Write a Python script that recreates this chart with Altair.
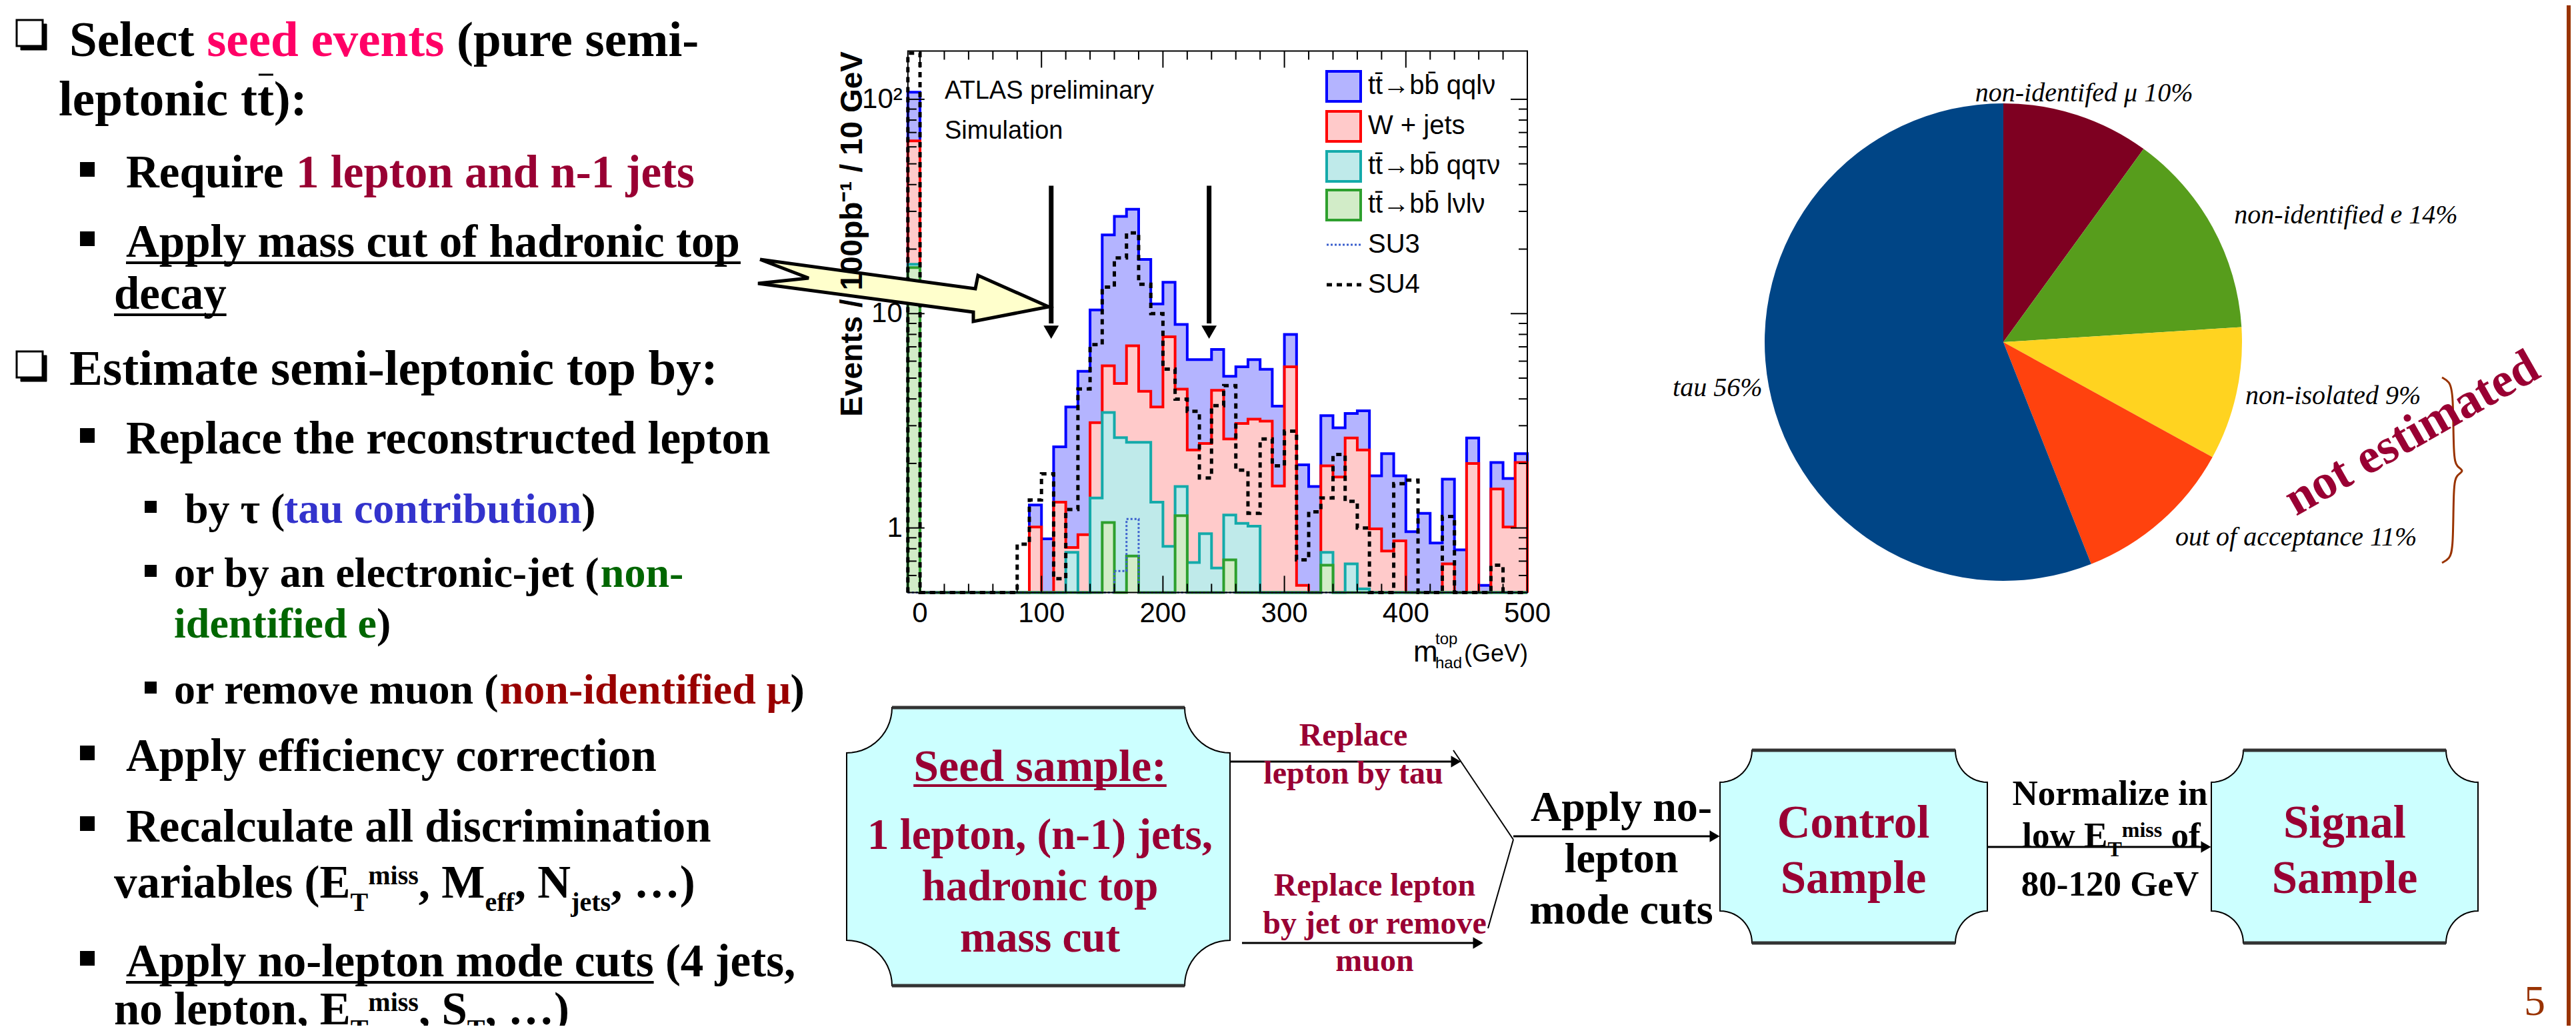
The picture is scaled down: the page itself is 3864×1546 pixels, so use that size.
import altair as alt
import pandas as pd
import math
from collections import defaultdict

# ====================== DATA ======================
# Histogram: m_had^top, 10 GeV bins (first bin -10..0 holds the overflow spike)
BIN_LOW = [-10, 0, 10, 20, 30, 40, 50, 60, 70, 80, 90, 100, 110, 120, 130, 140, 150, 160, 170, 180,
           190, 200, 210, 220, 230, 240, 250, 260, 270, 280, 290, 300, 310, 320, 330, 340, 350, 360,
           370, 380, 390, 400, 410, 420, 430, 440, 450, 460, 470, 480, 490]
TT_QQLNU = [108, 0, 0, 0, 0, 0, 0, 0, 0, 0, 1.28, 0.89, 2.39, 3.67, 5.38, 10.4, 23.3, 28.4, 30.7, 17.9,
            11.1, 14.0, 8.9, 6.1, 6.1, 6.8, 5.1, 5.65, 6.1, 5.5, 3.7, 8.0, 1.97, 1.56, 3.34, 2.93, 3.42, 3.52,
            1.75, 2.22, 1.75, 0.96, 1.17, 0.85, 1.69, 0.79, 2.63, 0.54, 2.02, 1.70, 2.22]
W_JETS = [64, 0, 0, 0, 0, 0, 0, 0, 0, 0, 1.01, 0, 1.32, 0.81, 0.93, 3.1, 5.71, 4.72, 7.08, 4.34,
          3.67, 7.8, 4.44, 2.31, 2.48, 4.39, 2.6, 3.07, 3.22, 3.15, 1.57, 5.65, 0.54, 0, 1.95, 1.73, 2.63, 2.31,
          0.99, 0.78, 0.87, 0, 0, 0, 0.68, 0, 2.0, 0, 1.52, 1.01, 2.02]
TT_QQTAUNU = [17, 0, 0, 0, 0, 0, 0, 0, 0, 0, 0, 0, 0, 0.77, 0, 1.38, 3.46, 2.64, 2.51, 2.51,
              1.32, 0.82, 1.56, 0.69, 0.94, 0.65, 1.15, 1.05, 1.02, 0, 0, 0, 0, 0, 0.77, 0, 0.68, 0.52,
              0, 0, 0, 0, 0, 0, 0, 0, 0, 0, 0, 0, 0]
TT_LNULNU = [16.4, 0, 0, 0, 0, 0, 0, 0, 0, 0, 0, 0, 0, 0, 0, 0, 1.06, 0, 0.74, 0,
             0, 0, 1.14, 0, 0, 0, 0.71, 0, 0, 0, 0, 0, 0, 0, 0.67, 0, 0, 0,
             0, 0, 0, 0, 0, 0, 0, 0, 0, 0, 0, 0, 0]
SU3 = [0, 0, 0, 0, 0, 0, 0, 0, 0, 0, 0, 0, 0, 0, 0, 0, 0, 0.63, 1.1, 0,
       0, 0, 0, 0, 0, 0, 0, 0, 0, 0, 0, 0, 0, 0, 0, 0, 0, 0,
       0, 0, 0, 0, 0, 0, 0, 0, 0, 0, 0, 0, 0]
SU4 = [164, 0, 0, 0, 0, 0, 0, 0, 0, 0.84, 1.35, 1.79, 0.58, 1.22, 4.45, 7.17, 13.3, 18.2, 23.8, 13.7,
       10.0, 5.51, 3.99, 3.5, 1.71, 3.72, 4.61, 1.86, 1.17, 2.6, 1.95, 2.83, 0.71, 1.19, 1.38, 2.2, 1.33, 1.0,
       0, 0, 1.61, 1.67, 0, 0, 1.13, 0, 0, 0, 0.67, 0, 0]
MASS_CUTS = [108, 238]
X_TICK_LABELS = [0, 100, 200, 300, 400, 500]
Y_TICK_LABELS = ["1", "10", "10\u00b2"]
X_TICKS_MINOR = [20, 40, 60, 80, 120, 140, 160, 180, 220, 240, 260, 280, 320, 340, 360, 380, 420, 440, 460, 480]
X_TICKS_MAJOR = [0, 100, 200, 300, 400]
Y_TICKS_MAJOR = [1, 10, 100]
Y_TICKS_MINOR = [0.6, 0.7, 0.8, 0.9, 2, 3, 4, 5, 6, 7, 8, 9, 20, 30, 40, 50, 60, 70, 80, 90]

# Pie: sources of the semi-leptonic top background
PIE_LABELS = ["non-identifed \u03bc", "non-identified e", "non-isolated", "out of acceptance", "tau"]
PIE_VALUES = [10, 14, 9, 11, 56]
PIE_COLORS = ["#7e0021", "#579d1c", "#ffd320", "#ff420e", "#004586"]

# ====================== LAYOUT ======================
W, H = 3848, 1530
M = 8
SERIF = "Liberation Serif"
SANS = "Liberation Sans"
K = "black"
PINK = "#ff0066"
DRED = "#990033"
BLUE = "#3333cc"
GREEN = "#006600"
MRED = "#990000"
BROWN = "#993300"

def X(v):
    return v - M

def Y(v):
    return v - M

PXS = alt.Scale(domain=[0, W], range=[0, W], nice=False, zero=False)
PYS = alt.Scale(domain=[0, H], range=[0, H], nice=False, zero=False)

TBW = {' ': 250, '!': 333, '(': 333, ')': 333, ',': 250, '-': 333, '.': 250, ':': 333, '%': 1000,
       '\u2026': 1000, '\u03c4': 440, '\u03bc': 556}
for d in "0123456789":
    TBW[d] = 500
for ch, w in zip("ABCDEFGHIJKLMNOPQRSTUVWXYZ",
                 [722, 667, 722, 722, 667, 611, 778, 778, 389, 500, 778, 667, 944, 722, 778, 611, 778, 722,
                  556, 667, 722, 722, 1000, 722, 722, 667]):
    TBW[ch] = w
for ch, w in zip("abcdefghijklmnopqrstuvwxyz",
                 [500, 556, 444, 556, 444, 333, 500, 556, 278, 333, 556, 278, 833, 556, 500, 556, 556, 444,
                  389, 333, 556, 500, 722, 500, 500, 444]):
    TBW[ch] = w

def tbw(s, F):
    return sum(TBW.get(c, 500) for c in s) * F / 1000.0

texts, rules, squares, rects, heads = [], [], [], [], []

def T(x, y, s, size, color=K, font=SERIF, weight="bold", style="normal", align="left",
      baseline="alphabetic", angle=0):
    texts.append(dict(x=X(x), y=Y(y), t=s, s=size, c=color, font=font, weight=weight, style=style,
                      align=align, baseline=baseline, angle=angle))

def R(x1, y1, x2, y2, w, color=K):
    rules.append(dict(x=X(x1), y=Y(y1), x2=X(x2), y2=Y(y2), w=w, c=color))

def rich(x0, base, segs):
    x = x0
    for seg in segs:
        text, color, F = seg[0], seg[1], seg[2]
        dy = seg[3] if len(seg) > 3 else 0
        ul = seg[4] if len(seg) > 4 else False
        stripped = text.lstrip(" ")
        lead = tbw(text[:len(text) - len(stripped)], F)   # SVG drops leading blanks
        x += lead
        T(x, base + dy, stripped, F, color)
        w = tbw(stripped, F)
        if ul:
            R(x, base + 9, x + w, base + 9, 4, color)
        x += w
    return x

def bullet(cx, cy, side):
    squares.append(dict(x=X(cx), y=Y(cy), sz=side * side))

def checkbox(x0, y0):
    rects.append(dict(x=X(x0 + 6), x2=X(x0 + 45), y=Y(y0 + 6), y2=Y(y0 + 45), f=K, s=K, sw=1))
    rects.append(dict(x=X(x0), x2=X(x0 + 39), y=Y(y0), y2=Y(y0 + 39), f="white", s=K, sw=3))

F1, F2, F3 = 75, 69, 64
# ---------- left column text ----------
checkbox(25, 30)
rich(104, 84, [("Select ", K, F1), ("seed events", PINK, F1), (" (pure semi-", K, F1)])
rich(88, 173, [("leptonic tt):", K, F1)])
xa = 88 + tbw("leptonic t", F1)
R(xa + 2, 112, xa + tbw("t", F1) - 1, 112, 3)
bullet(131, 254, 22)
rich(189, 281, [("Require ", K, F2), ("1 lepton and n-1 jets", DRED, F2)])
bullet(131, 358, 22)
rich(189, 385, [("Apply mass cut of hadronic top", K, F2, 0, True)])
rich(171, 463, [("decay", K, F2, 0, True)])
checkbox(25, 527)
rich(104, 577, [("Estimate semi-leptonic top by:", K, F1)])
bullet(131, 653, 22)
rich(189, 680, [("Replace the reconstructed lepton", K, F2)])
bullet(226, 760, 18)
rich(277, 784, [("by \u03c4 (", K, F3), ("tau contribution", BLUE, F3), (")", K, F3)])
bullet(226, 856, 18)
rich(261, 880, [("or by an electronic-jet (", K, F3), ("non-", GREEN, F3)])
rich(261, 956, [("identified e", GREEN, F3), (")", K, F3)])
bullet(226, 1031, 18)
rich(261, 1055, [("or remove muon (", K, F3), ("non-identified \u03bc", MRED, F3), (")", K, F3)])
bullet(131, 1129, 22)
rich(189, 1156, [("Apply efficiency correction", K, F2)])
bullet(131, 1235, 22)
rich(189, 1262, [("Recalculate all discrimination", K, F2)])
rich(171, 1346, [("variables (E", K, F2), ("T", K, 40, 20), ("miss", K, 40, -20), (", M", K, F2),
                 ("eff", K, 40, 20), (", N", K, F2), ("jets", K, 40, 20), (", \u2026)", K, F2)])
bullet(131, 1437, 22)
rich(189, 1464, [("Apply no-lepton mode cuts", K, F2, 0, True), (" (4 jets,", K, F2)])
rich(171, 1536, [("no lepton, E", K, F2), ("T", K, 40, 20), ("miss", K, 40, -20), (", S", K, F2),
                 ("T", K, 40, 20), (", \u2026)", K, F2)])

# ---------- histogram annotations ----------
T(1417, 148, "ATLAS preliminary", 38, font=SANS, weight="normal")
T(1417, 208, "Simulation", 38, font=SANS, weight="normal")
T(1279, 77, "Events / 100pb\u207b\u00b9 / 10 GeV", 46, font=SANS, weight="bold", align="right",
  baseline="middle", angle=270)
T(2120, 992, "m", 44, font=SANS, weight="normal")
T(2153, 966, "top", 24, font=SANS, weight="normal")
T(2153, 1002, "had", 24, font=SANS, weight="normal")
T(2292, 992, "(GeV)", 36, font=SANS, weight="normal", align="right")
LEG = [("tt\u0304\u2192bb\u0304 qql\u03bd", 129), ("W + jets", 189), ("tt\u0304\u2192bb\u0304 qq\u03c4\u03bd", 249),
       ("tt\u0304\u2192bb\u0304 l\u03bdl\u03bd", 307), ("SU3", 367), ("SU4", 427)]
for s, yc in LEG:
    T(2052, yc, s, 40, font=SANS, weight="normal", baseline="middle")
LEG_BOX = [(107, "#b4b4ff", "#0000ff"), (167, "#ffcaca", "#ff0000"), (227, "#bfeaea", "#14aaaa"),
           (285, "#d2ecc8", "#2ea02e")]
for y0, f, s in LEG_BOX:
    rects.append(dict(x=X(1990), x2=X(2041), y=Y(y0), y2=Y(y0 + 45), f=f, s=s, sw=4))

# ---------- pie annotations ----------
T(3618, 650, "not estimated", 74, DRED, align="center", baseline="middle", angle=330.4)

# ---------- flowchart ----------
T(1560, 1171, "Seed sample:", 68, DRED, align="center")
wseed = tbw("Seed sample:", 68)
R(1560 - wseed / 2, 1178, 1560 + wseed / 2, 1178, 4, DRED)
T(1560, 1273, "1 lepton, (n-1) jets,", 65, DRED, align="center")
T(1560, 1350, "hadronic top", 65, DRED, align="center")
T(1560, 1427, "mass cut", 65, DRED, align="center")
T(2030, 1118, "Replace", 48, DRED, align="center")
T(2030, 1175, "lepton by tau", 48, DRED, align="center")
T(2062, 1343, "Replace lepton", 48, DRED, align="center")
T(2062, 1400, "by jet or remove", 48, DRED, align="center")
T(2062, 1456, "muon", 48, DRED, align="center")
T(2432, 1231, "Apply no-", 64, align="center")
T(2432, 1308, "lepton", 64, align="center")
T(2432, 1385, "mode cuts", 64, align="center")
T(2780, 1256, "Control", 69, DRED, align="center")
T(2780, 1339, "Sample", 69, DRED, align="center")
T(3517, 1256, "Signal", 69, DRED, align="center")
T(3517, 1339, "Sample", 69, DRED, align="center")
T(3165, 1207, "Normalize in", 53, align="center")
segs = [("low E", K, 53), ("T", K, 32, 14), ("miss", K, 32, -15), (" of", K, 53)]
tot = sum(tbw(s[0], s[2]) for s in segs)
rich(3167 - tot / 2, 1270, segs)
T(3165, 1343, "80-120 GeV", 53, align="center")
T(3802, 1522, "5", 64, BROWN, align="center", weight="normal")

# flow arrows
R(1845, 1142, 2184, 1142, 3)
R(1863, 1414, 2217, 1414, 3)
R(2180, 1125, 2270, 1259, 2)
R(2232, 1392, 2270, 1259, 2)
R(2270, 1254, 2572, 1254, 3)
R(2981, 1270, 3309, 1270, 3)
for tx, ty in [(2192, 1142), (2225, 1414), (2580, 1254), (3317, 1270)]:
    heads.append(dict(x=X(tx - 8), y=Y(ty)))

# plaque boxes
PLAQUES = [(1270, 1845, 1061, 1478, 68), (2580, 2981, 1125, 1414, 48), (3317, 3717, 1125, 1414, 48)]
plaque_rows = []
for bid, (L, Rr, Tt, B, r) in enumerate(PLAQUES):
    n = 14
    pts = []
    for k in range(n + 1):
        ph = (math.pi / 2) * k / n
        pts.append((L + r * math.sin(ph), r * math.cos(ph)))
    for k in range(n + 1):
        ph = (math.pi / 2) * (n - k) / n
        pts.append((Rr - r * math.sin(ph), r * math.cos(ph)))
    for xx, dd in pts:
        plaque_rows.append(dict(id=bid, x=X(xx), y=Y(Tt + dd), y2=Y(B - dd)))
    R(L + r, Tt, Rr - r, Tt, 5, "#333333")
    R(L + r, B, Rr - r, B, 5, "#333333")

# big yellow arrow polygon
ARROW = [(1140, 389), (1463, 433), (1467, 413), (1573, 460), (1460, 482), (1460, 468), (1137, 425),
         (1213, 417), (1140, 389)]
arrow_rows = [dict(i=i, x=X(a), y=Y(b)) for i, (a, b) in enumerate(ARROW)]
BRACE = [(3663, 566), (3674, 572), (3680, 588), (3680, 686), (3685, 700), (3697, 706), (3685, 712),
         (3680, 726), (3680, 824), (3674, 838), (3663, 844)]
brace_rows = [dict(i=i, x=X(a), y=Y(b)) for i, (a, b) in enumerate(BRACE)]
R(3853, 0, 3853, 1546, 6, BROWN)

# ====================== HISTOGRAM ======================
FLOOR = 0.5
XS = alt.Scale(domain=[-10, 500], range=[X(1361.8), X(2291)], nice=False, zero=False)
YS = alt.Scale(type="log", domain=[FLOOR, 168], range=[Y(888.4), Y(76.5)], nice=False)

def hist_df(vals):
    rows = [dict(i=0, x=-10, v=FLOOR)]
    for k, (lo, v) in enumerate(zip(BIN_LOW, vals)):
        rows.append(dict(i=k + 1, x=lo, v=max(v, FLOOR)))
    rows.append(dict(i=len(rows), x=500, v=max(vals[-1], FLOOR)))
    rows.append(dict(i=len(rows), x=500, v=FLOOR))
    return pd.DataFrame(rows)

hist_layers = []
STYLES = [(TT_QQLNU, "#b4b4ff", "#0000ff"), (W_JETS, "#ffcaca", "#ff0000"),
          (TT_QQTAUNU, "#bfeaea", "#14aaaa"), (TT_LNULNU, "#d2ecc8", "#2ea02e")]
for vals, fill, stroke in STYLES:
    df = hist_df(vals)
    hist_layers.append(
        alt.Chart(df).mark_area(interpolate="step-after", color=fill, opacity=1).encode(
            x=alt.X("x:Q", scale=XS, axis=None), y=alt.Y("v:Q", scale=YS, axis=None),
            y2=alt.Y2Datum(FLOOR)))
    hist_layers.append(
        alt.Chart(df).mark_line(interpolate="step-after", color=stroke, strokeWidth=4, strokeCap="butt").encode(
            x=alt.X("x:Q", scale=XS, axis=None), y=alt.Y("v:Q", scale=YS, axis=None), order="i:Q"))
hist_layers.append(
    alt.Chart(hist_df(SU3)).mark_line(interpolate="step-after", color="#3a5fcd", strokeWidth=3,
                                      strokeDash=[3, 3]).encode(
        x=alt.X("x:Q", scale=XS, axis=None), y=alt.Y("v:Q", scale=YS, axis=None), order="i:Q"))
hist_layers.append(
    alt.Chart(hist_df(SU4)).mark_line(interpolate="step-after", color=K, strokeWidth=5,
                                      strokeDash=[8, 7]).encode(
        x=alt.X("x:Q", scale=XS, axis=None), y=alt.Y("v:Q", scale=YS, axis=None), order="i:Q"))
one = pd.DataFrame({"a": [0]})
hist_layers.append(
    alt.Chart(one).mark_rect(fill="transparent", stroke=K, strokeWidth=2).encode(
        x=alt.XDatum(-10, scale=XS, axis=None), x2=alt.X2Datum(500),
        y=alt.YDatum(FLOOR, scale=YS, axis=None), y2=alt.Y2Datum(168)))
for ticks, ln in [(X_TICKS_MINOR, 13), (X_TICKS_MAJOR, 25)]:
    for yv, sgn in [(FLOOR, -1), (168, 1)]:
        hist_layers.append(
            alt.Chart(pd.DataFrame({"t": ticks})).mark_tick(orient="vertical", size=ln, thickness=2, color=K,
                                                           yOffset=sgn * ln / 2, opacity=1).encode(
                x=alt.X("t:Q", scale=XS, axis=None), y=alt.YDatum(yv, scale=YS, axis=None)))
for ticks, ln in [(Y_TICKS_MINOR, 13), (Y_TICKS_MAJOR, 25)]:
    for xv, sgn in [(-10, 1), (500, -1)]:
        hist_layers.append(
            alt.Chart(pd.DataFrame({"t": ticks})).mark_tick(orient="horizontal", size=ln, thickness=2, color=K,
                                                           xOffset=sgn * ln / 2, opacity=1).encode(
                x=alt.XDatum(xv, scale=XS, axis=None), y=alt.Y("t:Q", scale=YS, axis=None)))
# tick labels drawn through the scales
hist_layers.append(
    alt.Chart(pd.DataFrame({"t": X_TICK_LABELS})).mark_text(
        font=SANS, fontSize=42, baseline="top", align="center", dy=12, color=K).encode(
        x=alt.X("t:Q", scale=XS, axis=None), y=alt.YDatum(FLOOR, scale=YS, axis=None),
        text=alt.Text("t:Q", format="d")))
hist_layers.append(
    alt.Chart(pd.DataFrame({"t": Y_TICKS_MAJOR, "lab": Y_TICK_LABELS})).mark_text(
        font=SANS, fontSize=42, baseline="middle", align="right", dx=-8, color=K).encode(
        x=alt.XDatum(-10, scale=XS, axis=None), y=alt.Y("t:Q", scale=YS, axis=None), text="lab:N"))
cuts = pd.DataFrame({"m": MASS_CUTS})
hist_layers.append(
    alt.Chart(cuts).mark_rule(strokeWidth=7, color=K).encode(
        x=alt.X("m:Q", scale=XS, axis=None), y=alt.YDatum(39.5, scale=YS, axis=None), y2=alt.Y2Datum(9.0)))
hist_layers.append(
    alt.Chart(cuts).mark_point(shape="triangle-down", filled=True, size=520, color=K, opacity=1,
                               yOffset=-10).encode(
        x=alt.X("m:Q", scale=XS, axis=None), y=alt.YDatum(7.63, scale=YS, axis=None)))
hist = alt.layer(*hist_layers)

# ====================== PIE ======================
CX, CY = X(3005), Y(513)
pie_df = pd.DataFrame(dict(label=PIE_LABELS, value=PIE_VALUES, ord=list(range(len(PIE_LABELS)))))
pie_df["txt"] = [f"{l} {v}%" for l, v in zip(PIE_LABELS, PIE_VALUES)]
pbase = alt.Chart(pie_df)
pie_layers = [pbase.mark_arc(outerRadius=358).encode(
    theta=alt.Theta("value:Q", stack=True, scale=alt.Scale(domain=[0, 100])),
    order=alt.Order("ord:Q"),
    color=alt.Color("label:N", scale=alt.Scale(domain=PIE_LABELS, range=PIE_COLORS), legend=None),
    x=alt.value(CX), y=alt.value(CY))]
LABEL_POS = [(PIE_LABELS[0], 392, "center"), (PIE_LABELS[1], 395, "left"), (PIE_LABELS[2], 372, "left"),
             (PIE_LABELS[3], 390, "left"), (PIE_LABELS[4], 368, "right")]
for lab, rad, al in LABEL_POS:
    pie_layers.append(
        pbase.transform_window(cum="sum(value)", sort=[alt.SortField("ord")])
        .transform_calculate(mid="datum.cum - datum.value / 2")
        .transform_filter(alt.datum.label == lab)
        .mark_text(radius=rad, align=al, baseline="middle", font=SERIF, fontStyle="italic", fontSize=40,
                   color=K)
        .encode(theta=alt.Theta("mid:Q", stack=False, scale=alt.Scale(domain=[0, 100])),
                text="txt:N", x=alt.value(CX), y=alt.value(CY)))
pie = alt.layer(*pie_layers)

# ====================== DECORATION / TEXT ======================
px_ = alt.X("x:Q", scale=PXS, axis=None)
py_ = alt.Y("y:Q", scale=PYS, axis=None)
deco = [
    alt.Chart(pd.DataFrame(plaque_rows)).mark_area(color="#ccffff", stroke=K, strokeWidth=2, opacity=1).encode(
        x=px_, y=py_, y2="y2:Q", detail="id:N"),
    alt.Chart(pd.DataFrame(rules)).mark_rule().encode(
        x=px_, y=py_, x2="x2:Q", y2="y2:Q", strokeWidth=alt.StrokeWidth("w:Q", scale=None),
        color=alt.Color("c:N", scale=None)),
    alt.Chart(pd.DataFrame(heads)).mark_point(shape="triangle-right", filled=True, size=300, color=K,
                                              opacity=1).encode(x=px_, y=py_),
    alt.Chart(pd.DataFrame(arrow_rows)).mark_line(fill="#ffffcc", stroke=K, strokeWidth=5,
                                                  strokeJoin="miter").encode(x=px_, y=py_, order="i:Q"),
    alt.Chart(pd.DataFrame(brace_rows)).mark_line(stroke=BROWN, strokeWidth=3, interpolate="basis").encode(
        x=px_, y=py_, order="i:Q"),
    alt.Chart(pd.DataFrame(rects)).mark_rect().encode(
        x=px_, x2="x2:Q", y=py_, y2="y2:Q", fill=alt.Fill("f:N", scale=None),
        stroke=alt.Stroke("s:N", scale=None), strokeWidth=alt.StrokeWidth("sw:Q", scale=None)),
    alt.Chart(pd.DataFrame(squares)).mark_square(filled=True, color=K, opacity=1).encode(
        x=px_, y=py_, size=alt.Size("sz:Q", scale=None)),
    alt.Chart(pd.DataFrame([dict(x=X(1990), x2=X(2042), y=Y(367), y2=Y(367))])).mark_rule(
        color="#3a5fcd", strokeWidth=3, strokeDash=[3, 3]).encode(x=px_, x2="x2:Q", y=py_, y2="y2:Q"),
    alt.Chart(pd.DataFrame([dict(x=X(1990), x2=X(2042), y=Y(427), y2=Y(427))])).mark_rule(
        color=K, strokeWidth=5, strokeDash=[8, 7]).encode(x=px_, x2="x2:Q", y=py_, y2="y2:Q"),
]
groups = defaultdict(list)
for t in texts:
    groups[(t["font"], t["weight"], t["style"], t["align"], t["baseline"], t["angle"])].append(t)
for (font, weight, style, align, baseline, angle), items in groups.items():
    kw = dict(font=font, fontWeight=weight, fontStyle=style, align=align, baseline=baseline)
    if angle:
        kw["angle"] = angle
    deco.append(alt.Chart(pd.DataFrame(items)).mark_text(**kw).encode(
        x=px_, y=py_, text="t:N", color=alt.Color("c:N", scale=None), size=alt.Size("s:Q", scale=None)))
decol = alt.layer(*deco)

chart = alt.layer(hist, pie, decol).resolve_scale(
    x="independent", y="independent", color="independent", size="independent",
    strokeWidth="independent").properties(
    width=W, height=H, autosize=alt.AutoSizeParams(type="none"), padding=0, background="white"
).configure_view(stroke=None)

chart.save("out.html", embed_options={"renderer": "svg", "actions": False})
